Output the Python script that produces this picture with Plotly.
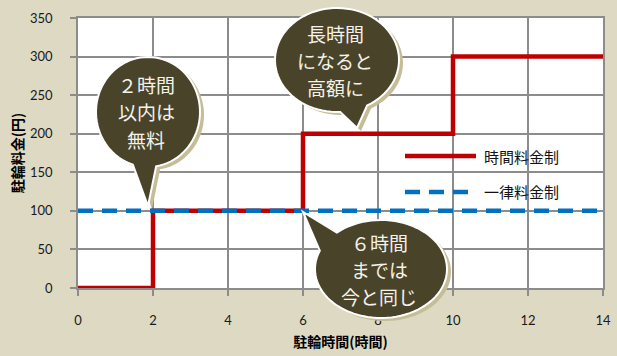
import math

import plotly.graph_objects as go

# データ
hours = [0, 2, 6, 10, 14]
fee_hourly = [0, 100, 200, 300, 300]
flat_hours = [0, 14]
fee_flat = [100, 100]
series_names = ["時間料金制", "一律料金制"]
x_ticks = [0, 2, 4, 6, 8, 10, 12, 14]
y_ticks = [0, 50, 100, 150, 200, 250, 300, 350]

W, H = 617, 356
ML, MR, MT, MB = 78, 14, 18, 68
PW, PH = W - ML - MR, H - MT - MB

BG = "#DDD9C3"
DARK = "#494429"
SHADOW = "#C4BD97"
RED = "#C00000"
BLUE = "#0070C0"
GRID = "#8C8C8C"
CJK = "Noto Sans CJK JP"
LINE_GAP = 27


def paper(px, py):
    return (px - ML) / PW, (MT + PH - py) / PH


def bubble_path(cx, cy, rx, ry, tip, a1, a2, dx=0, dy=0, n=80):
    pts = []
    for k in range(n + 1):
        a = math.radians(a1 + (a2 - a1) * k / n)
        pts.append((cx + rx * math.cos(a) + dx, cy + ry * math.sin(a) + dy))
    pts.append((tip[0] + dx, tip[1] + dy))
    coords = [paper(x, y) for x, y in pts]
    return "M " + " L ".join(f"{x:.5f},{y:.5f}" for x, y in coords) + " Z"


# 吹き出し: 中心, 半径, しっぽの先, しっぽ付け根の角度, 文字
bubbles = [
    ((148, 112), (52, 55), (148, 206), (107, 441), ["２時間", "以内は", "無料"]),
    ((337, 60), (62, 52), (357, 128), (87, 421), ["長時間", "になると", "高額に"]),
    ((381, 269), (66, 49), (303, 212), (228, 562), ["６時間", "までは", "今と同じ"]),
]

fig = go.Figure()
fig.add_trace(go.Scatter(
    x=hours, y=fee_hourly, name=series_names[0], mode="lines",
    line=dict(color=RED, width=4.5, shape="hv"), cliponaxis=False,
    showlegend=False,
))
fig.add_trace(go.Scatter(
    x=flat_hours, y=fee_flat, name=series_names[1], mode="lines",
    line=dict(color=BLUE, width=4.5, dash="15px,9px"), cliponaxis=False,
    showlegend=False,
))

shapes = []
annotations = []
for (cx, cy), (rx, ry), tip, (a1, a2), lines in bubbles:
    shapes.append(dict(type="path", xref="paper", yref="paper", layer="above",
                       path=bubble_path(cx, cy, rx, ry, tip, a1, a2, 4, 3),
                       fillcolor=SHADOW, line=dict(width=0)))
    shapes.append(dict(type="path", xref="paper", yref="paper", layer="above",
                       path=bubble_path(cx, cy, rx, ry, tip, a1, a2),
                       fillcolor=DARK, line=dict(color="white", width=2)))
    for j, line in enumerate(lines):
        x, y = paper(cx - 2, cy + (j - 1) * LINE_GAP)
        annotations.append(dict(xref="paper", yref="paper", x=x, y=y, text=line,
                                xanchor="center", yanchor="middle",
                                showarrow=False,
                                font=dict(family=CJK, size=19, color="#F4F2EA")))

# 凡例（手書き）
for i, (name, color, dash) in enumerate(zip(series_names, [RED, BLUE], ["solid", "15px,9px"])):
    py = 156 + 36 * i
    x0, y0 = paper(405, py)
    x1, _ = paper(476, py)
    shapes.append(dict(type="line", xref="paper", yref="paper", x0=x0, x1=x1, y0=y0, y1=y0,
                       line=dict(color=color, width=4.5, dash=dash)))
    tx, _ = paper(482, py)
    annotations.append(dict(xref="paper", yref="paper", x=tx, y=y0, text=name,
                            xanchor="left", yanchor="middle", showarrow=False,
                            font=dict(family=CJK, size=15, color="#111111")))

axis_common = dict(
    showgrid=True, gridcolor=GRID, gridwidth=1.5,
    showline=True, linecolor=GRID, linewidth=1.5, mirror=True,
    ticks="outside", ticklen=6, tickcolor=GRID, tickwidth=1.5,
    tickfont=dict(family="Lato", size=13, color="#1a1a1a"),
    zeroline=False, layer="below traces", fixedrange=True,
)

fig.update_layout(
    width=W, height=H,
    margin=dict(l=ML, r=MR, t=MT, b=MB, autoexpand=False),
    paper_bgcolor=BG, plot_bgcolor="white",
    xaxis=dict(range=[0, 14], tickvals=x_ticks, ticklabelstandoff=14,
               title=dict(text="<b>駐輪時間(時間)</b>", standoff=10,
                          font=dict(family=CJK, size=14, color="black")),
               **axis_common),
    yaxis=dict(range=[0, 350], tickvals=y_ticks, ticklabelstandoff=15,
               title=dict(text="<b>駐輪料金(円)</b>", standoff=3,
                          font=dict(family=CJK, size=14, color="black")),
               **axis_common),
    shapes=shapes, annotations=annotations,
)

fig.write_html("out.html", config={"displayModeBar": False},
               post_script="document.body.style.margin='0';")
